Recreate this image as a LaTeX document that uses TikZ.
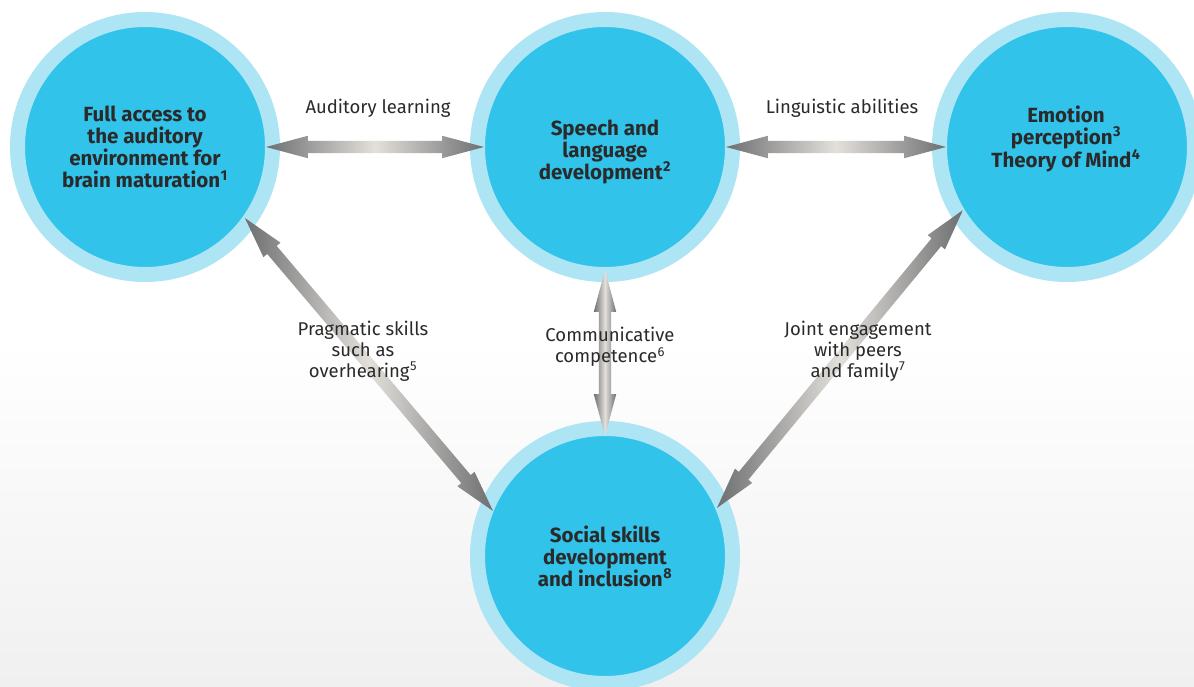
\documentclass[tikz,border=0pt]{standalone}
\usepackage{fontspec}
\setmainfont{Fira Sans}
\usetikzlibrary{shapes.arrows,calc}
\definecolor{innerc}{HTML}{31C3EA}
\definecolor{ringc}{HTML}{ADE5F5}
\definecolor{arrdark}{HTML}{6E6F71}
\definecolor{arrlight}{HTML}{E3E0DB}
\definecolor{txtc}{HTML}{2A2A2A}
\definecolor{bgbot}{HTML}{F0F0F1}
\newcommand\dblarrow[2]{\path let \p1=($(#2)-(#1)$), \n1={atan2(\y1,\x1)}, \n2={veclen(\x1,\y1)} in node[dbl, minimum height=\n2, rotate=\n1] at ($(#1)!0.5!(#2)$) {};}
\newcommand\sups[1]{\textsuperscript{\kern0.5pt#1}}
\begin{document}
\begin{tikzpicture}[x=1pt,y=1pt,
 bubble/.style={circle, fill=innerc, draw=ringc, line width=15pt, minimum size=255pt, inner sep=0pt, outer sep=0pt, align=center, font=\fontsize{20.5}{22}\selectfont\bfseries, text=txtc},
 btext/.style={align=center, font=\fontsize{20.5}{22}\selectfont\bfseries, text=txtc},
 lbl/.style={align=center, font=\fontsize{18.5}{21}\selectfont, text=txtc},
 dbl/.style={double arrow, inner xsep=0pt, inner ysep=6pt, outer sep=0pt, double arrow head extend=5pt, double arrow tip angle=30, shading=axis, left color=arrdark, right color=arrdark, middle color=arrlight, draw=none}]
\useasboundingbox (0,0) rectangle (1194,-687);
\fill[white] (0,0) rectangle (1194,-340);
\shade[top color=white, bottom color=bgbot] (0,-340) rectangle (1194,-687);

\node[bubble] (L) at (145,-147) {Full access to\\the auditory\\environment for\\brain maturation\sups{1}};
\node[bubble] (M) at (605,-147) {};
\node[btext] (Mt) at (605,-151.5) {Speech and\\language\\development\sups{2}};
\node[bubble] (R) at (1067,-147) {};
\node[btext] (Rt) at (1066,-138.5) {Emotion\\perception\sups{3}\\Theory of Mind\sups{4}};
\node[bubble] (B) at (605,-556) {Social skills\\development\\and inclusion\sups{8}};

\coordinate (a1) at ($(L.center)+(0:121)$);
\coordinate (a2) at ($(M.center)+(180:121)$);
\coordinate (b1) at ($(M.center)+(0:121)$);
\coordinate (b2) at ($(R.center)+(180:121)$);
\coordinate (c1) at ($(M.center)+(-90:123)$);
\coordinate (c2) at ($(B.center)+(90:120)$);
\coordinate (d1) at ($(L.center)+(-35.4:122.6)$);
\coordinate (d2) at ($(B.center)+(158.1:120.7)$);
\coordinate (e1) at ($(R.center)+(211.2:121.6)$);
\coordinate (e2) at ($(B.center)+(23.2:121.8)$);

\dblarrow{a1}{a2}
\dblarrow{b1}{b2}
\dblarrow{c1}{c2}
\dblarrow{d1}{d2}
\dblarrow{e1}{e2}

\node[lbl] (t1) at (378,-108) {Auditory learning};
\node[lbl] (t2) at (842,-108) {Linguistic abilities};
\node[lbl] (t3) at (363,-351) {Pragmatic skills\\such as\\overhearing\sups{5}};
\node[lbl] (t4) at (610,-347) {Communicative\\competence\sups{6}};
\node[lbl] (t5) at (858,-351) {Joint engagement\\with peers\\and family\sups{7}};
\end{tikzpicture}
\end{document}
